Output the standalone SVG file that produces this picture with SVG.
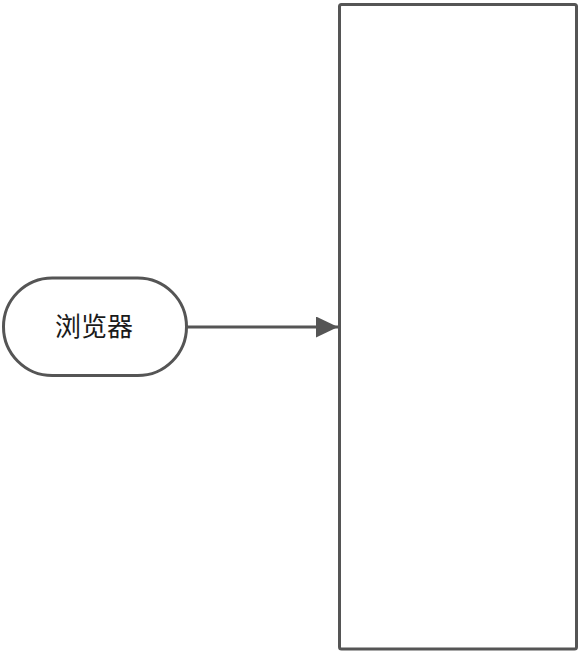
<svg xmlns="http://www.w3.org/2000/svg" width="580" height="654" viewBox="0 0 580 654">
<defs>
<style>
.shape{fill:#ffffff;stroke:#555555;stroke-width:3}
.label{font-family:"Noto Sans CJK SC","Noto Sans",sans-serif;font-size:26px;fill:#1a1a1a;text-anchor:middle;dominant-baseline:central}
.conn{stroke:#555555;stroke-width:3;fill:none}
</style>
<marker id="arrow" markerWidth="22" markerHeight="21" refX="22" refY="10.5" orient="auto" markerUnits="userSpaceOnUse">
<path d="M0,0 L22,10.5 L0,21 Z" fill="#555555"/>
</marker>
</defs>
<rect width="580" height="654" fill="#ffffff"/>
<g id="container">
<rect class="shape" x="339.5" y="4.5" width="237" height="644.5" rx="2"/>
</g>
<g id="browser">
<rect class="shape" x="3.5" y="278" width="183" height="97.5" rx="48.75"/>
<text class="label" x="94" y="324">浏览器</text>
</g>
<g id="connectors">
<line class="conn" x1="187" y1="327" x2="338" y2="327" marker-end="url(#arrow)"/>
</g>
</svg>
